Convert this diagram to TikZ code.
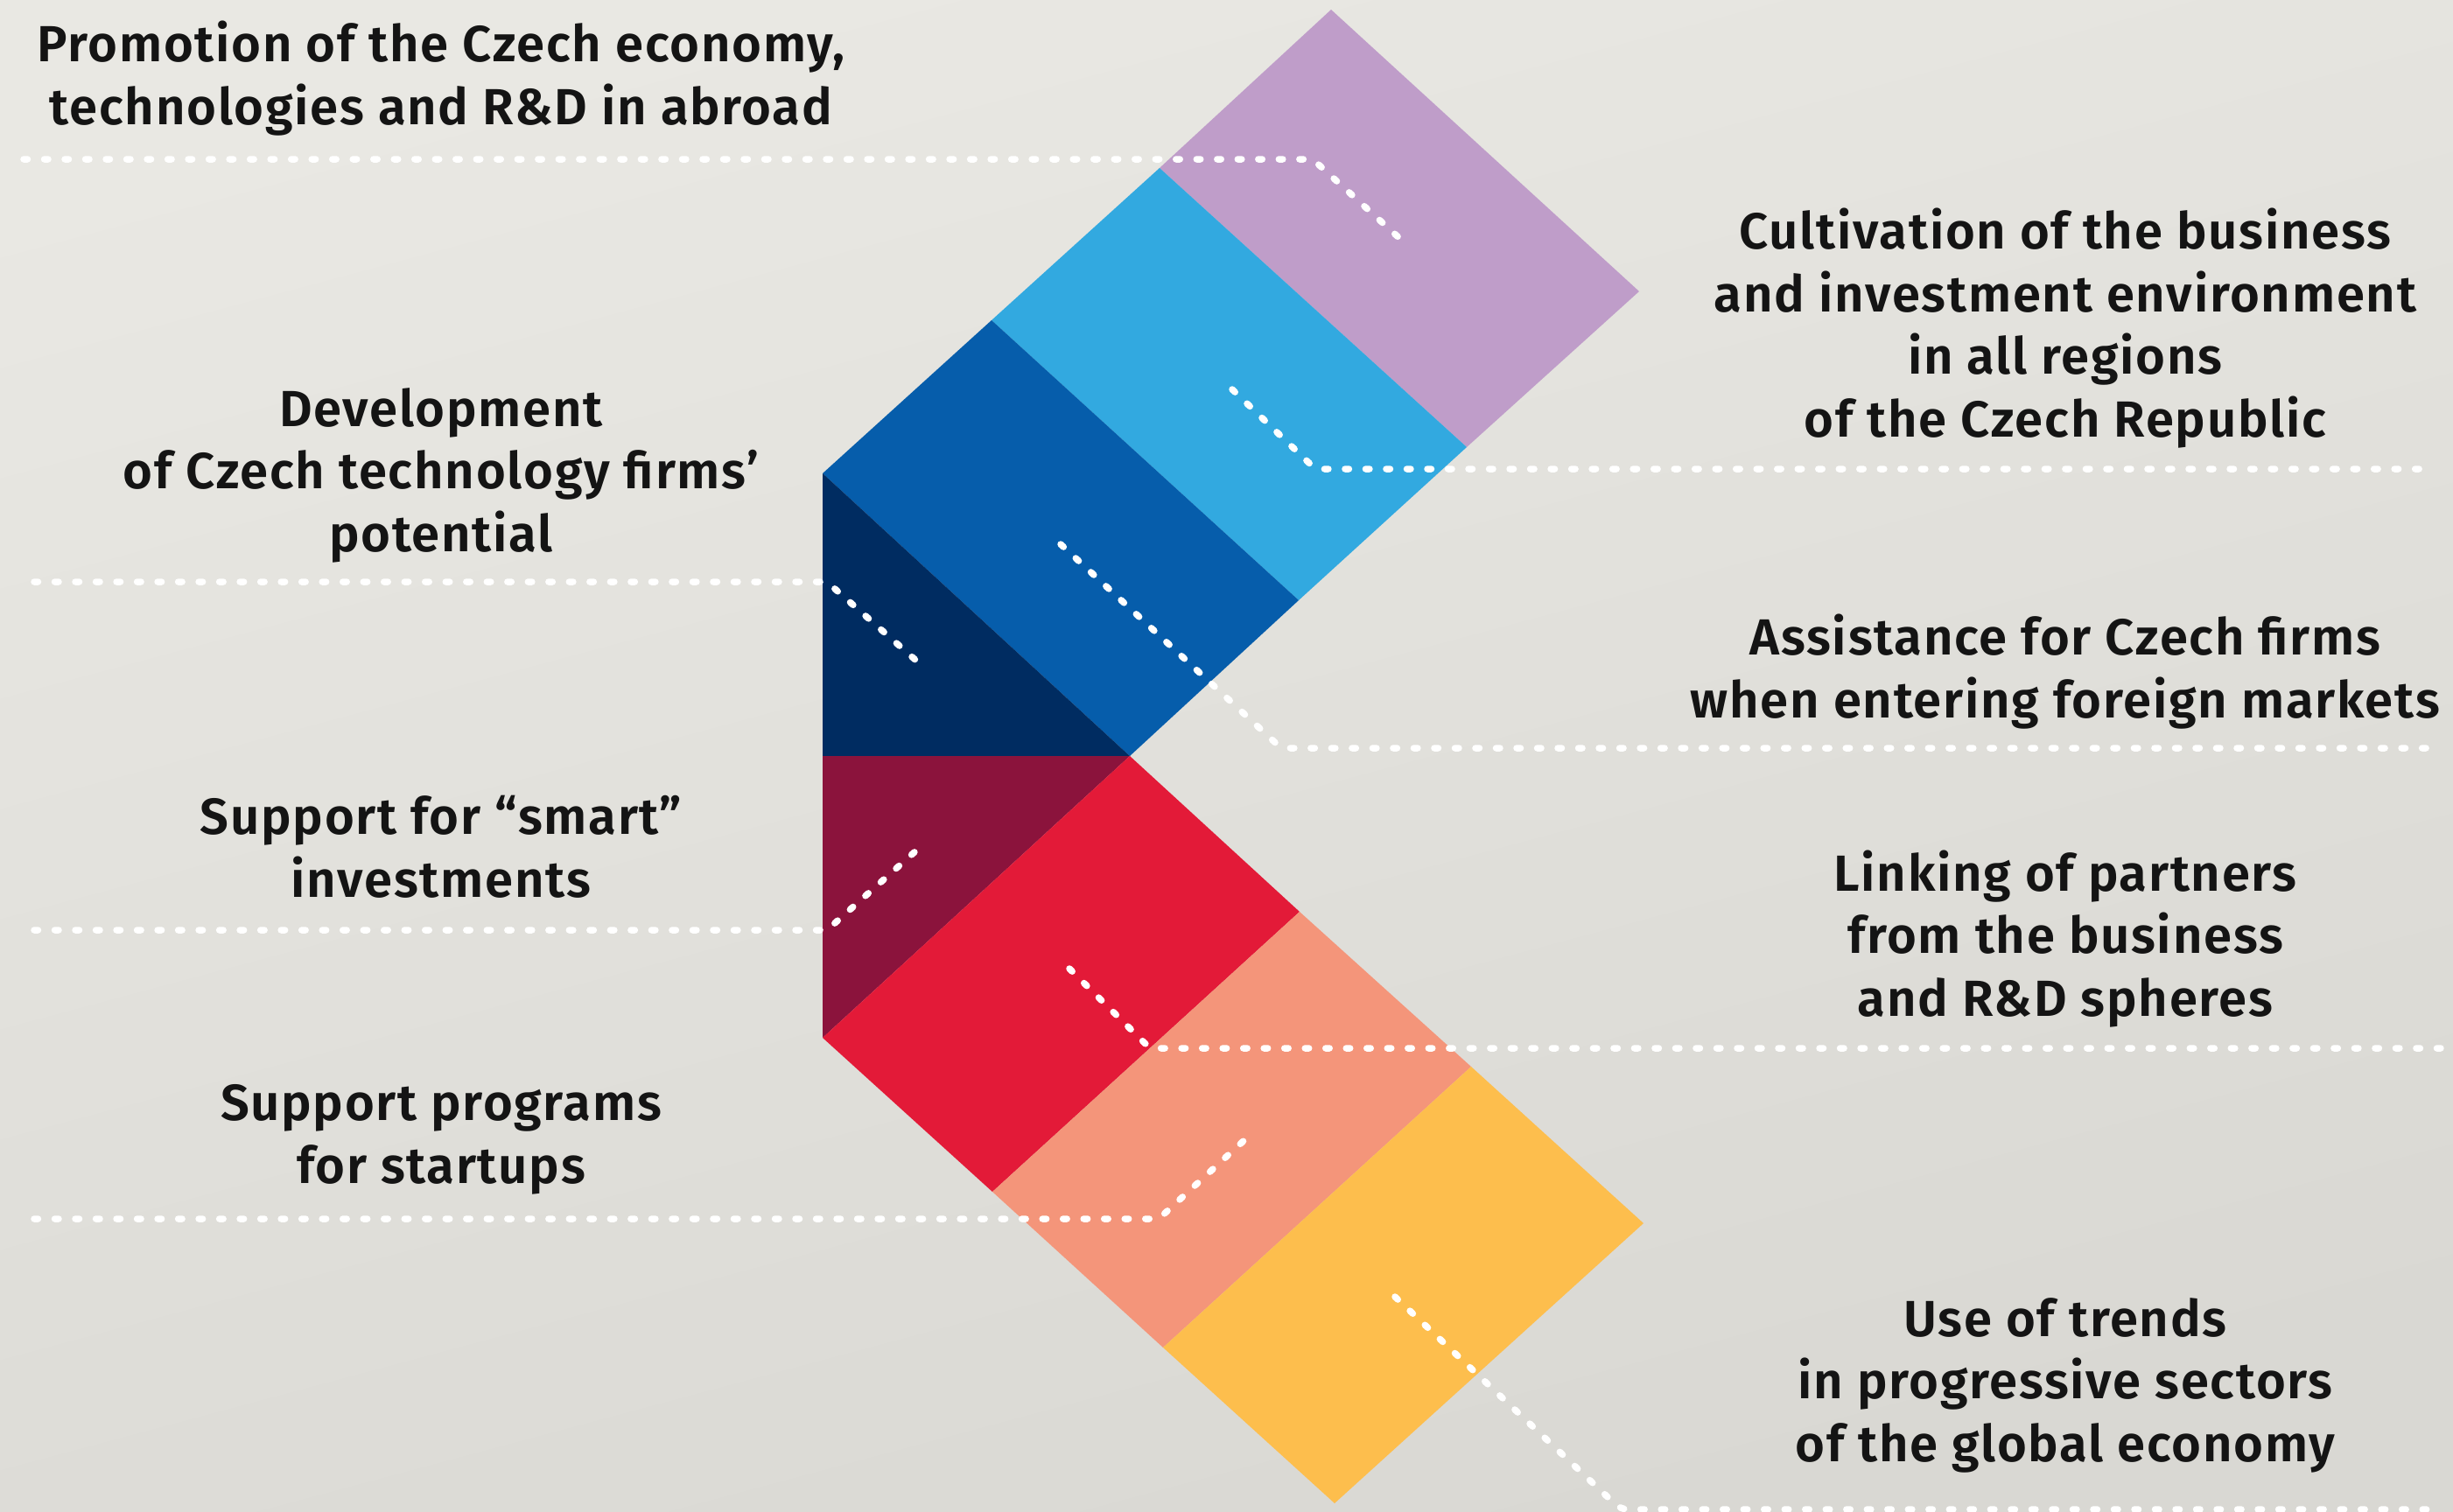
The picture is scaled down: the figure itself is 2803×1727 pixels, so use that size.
\documentclass[tikz,border=0pt]{standalone}
\usepackage{fontspec}
\setmainfont{Fira Sans SemiBold}[LetterSpace=3]
\usepackage{xcolor}
\usepackage{tikz}
\usetikzlibrary{calc}
\definecolor{ci-purple}{HTML}{BF9DC9}
\definecolor{ci-sky}{HTML}{32A9E0}
\definecolor{ci-blue}{HTML}{065DAB}
\definecolor{ci-navy}{HTML}{002C61}
\definecolor{ci-wine}{HTML}{8B133C}
\definecolor{ci-red}{HTML}{E31A38}
\definecolor{ci-salmon}{HTML}{F4957A}
\definecolor{ci-yellow}{HTML}{FDBE4D}
\definecolor{ci-bgtop}{HTML}{E9E8E3}
\definecolor{ci-bgbot}{HTML}{D9D8D3}
\definecolor{ci-text}{HTML}{141414}

\begin{document}
\begin{tikzpicture}[x=0.01cm, y=-0.01cm,
    lbl/.style={align=center, inner sep=0pt, anchor=base, text=ci-text,
      font=\fontsize{16.5}{20.3}\selectfont},
    leader/.style={white, line width=0.075cm, line cap=round,
      dash pattern=on 0.045cm off 0.19cm, rounded corners=0.08cm}]
          \useasboundingbox (0,0) rectangle (2803,1727);
          \shade[top color=ci-bgtop, bottom color=ci-bgbot, shading angle=15] (0,0) rectangle (2803,1727);

          % upper arm
          \coordinate (p0) at (940,541);
          \coordinate (p1) at (1133,366);
          \coordinate (p2) at (1325,192);
          \coordinate (p3) at (1521,11);
          \coordinate (q0) at (1291,864);
          \coordinate (q1) at (1484,686);
          \coordinate (q2) at (1676,511);
          \coordinate (q3) at (1873,333);
          \coordinate (mid) at (940,864);

          % lower arm
          \coordinate (s0) at (940,1186);
          \coordinate (s1) at (1134,1362);
          \coordinate (s2) at (1329,1540);
          \coordinate (s3) at (1525,1718);
          \coordinate (t1) at (1485,1042);
          \coordinate (t2) at (1681,1219);
          \coordinate (t3) at (1878,1398);

          \fill[ci-purple] (p2) -- (q2) -- (q3) -- (p3) -- cycle;
          \fill[ci-sky] (p1) -- (q1) -- (q2) -- (p2) -- cycle;
          \fill[ci-blue] (p0) -- (q0) -- (q1) -- (p1) -- cycle;
          \fill[ci-navy] (p0) -- (q0) -- (mid) -- cycle;
          \fill[ci-wine] (mid) -- (q0) -- (s0) -- cycle;
          \fill[ci-red] (s0) -- (q0) -- (t1) -- (s1) -- cycle;
          \fill[ci-salmon] (s1) -- (t1) -- (t2) -- (s2) -- cycle;
          \fill[ci-yellow] (s2) -- (t2) -- (t3) -- (s3) -- cycle;

          % left labels (anchored at the last baseline)
          \node[lbl] (promo) at (504,142) {Promotion of the Czech economy,\\technologies and R\&D in abroad};
          \node[lbl] (develop) at (504,630) {Development\\of Czech technology firms’\\potential};
          \node[lbl] (smart) at (504,1025) {Support for “smart”\\investments};
          \node[lbl] (startup) at (504,1352) {Support programs\\for startups};

          % right labels
          \node[lbl] (cultiv) at (2360,499) {Cultivation of the business\\and investment environment\\in all regions\\of the Czech Republic};
          \node[lbl] (assist) at (2360,820) {Assistance for Czech firms\\when entering foreign markets};
          \node[lbl] (linking) at (2360,1161) {Linking of partners\\from the business\\and R\&D spheres};
          \node[lbl] (trends) at (2360,1670) {Use of trends\\in progressive sectors\\of the global economy};

          % leaders
          \coordinate (promo-a) at (27,182);
          \coordinate (promo-b) at (1600,273);
          \draw[leader] (promo-a) -- (1500,182) -- (promo-b);
          \coordinate (develop-a) at (39,665);
          \coordinate (develop-b) at (1047,755);
          \draw[leader] (develop-a) -- (945,665) -- (develop-b);
          \coordinate (smart-a) at (39,1063);
          \coordinate (smart-b) at (1047,972);
          \draw[leader] (smart-a) -- (945,1063) -- (smart-b);
          \coordinate (startup-a) at (39,1393);
          \coordinate (startup-b) at (1423,1302);
          \draw[leader] (startup-a) -- (1324,1393) -- (startup-b);

          \coordinate (cultiv-a) at (2775,536);
          \coordinate (cultiv-b) at (1408,445);
          \draw[leader] (cultiv-b) -- (1503,536) -- (cultiv-a);
          \coordinate (assist-a) at (2790,855);
          \coordinate (assist-b) at (1212,622);
          \draw[leader] (assist-b) -- (1464,855) -- (assist-a);
          \coordinate (linking-a) at (2797,1198);
          \coordinate (linking-b) at (1222,1107);
          \draw[leader] (linking-b) -- (1314,1198) -- (linking-a);
          \coordinate (trends-a) at (2785,1725);
          \coordinate (trends-b) at (1594,1482);
          \draw[leader] (trends-b) -- (1852,1725) -- (trends-a);
        \end{tikzpicture}
\end{document}
